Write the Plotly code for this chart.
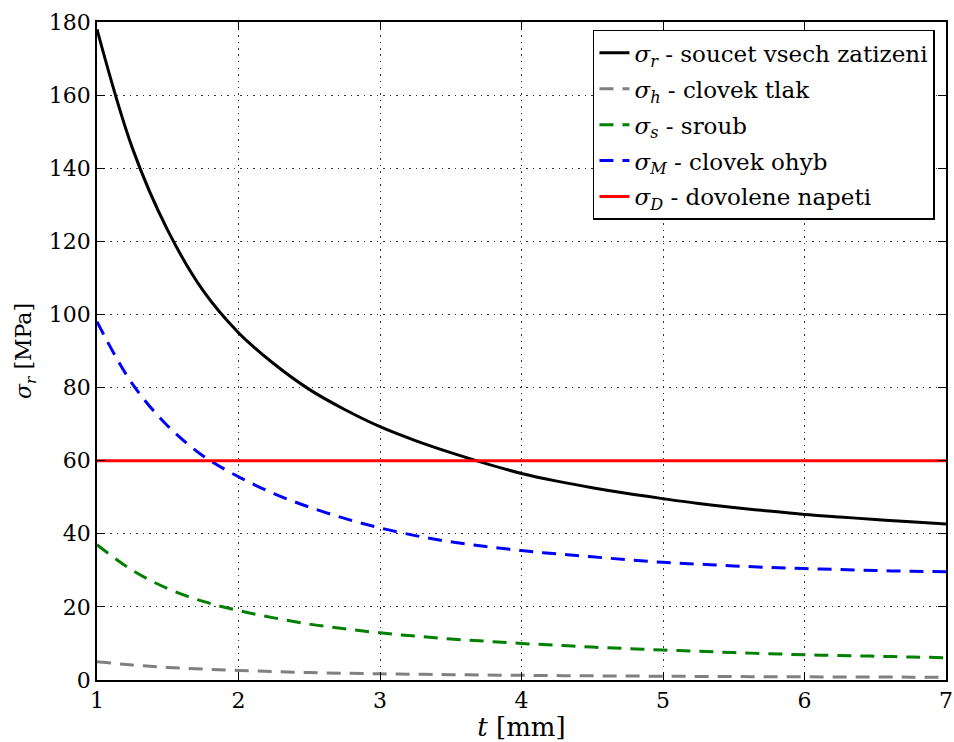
import plotly.graph_objects as go

# thickness t [mm]
t = [1.0, 1.25, 1.5, 1.75, 2.0, 2.25, 2.5, 2.75, 3.0, 3.25, 3.5, 3.75, 4.0,
     4.25, 4.5, 4.75, 5.0, 5.25, 5.5, 5.75, 6.0, 6.25, 6.5, 6.75, 7.0]

sigma_r = [178, 145.5, 123, 106.5, 95, 86.5, 79.5, 74, 69.3, 65.5, 62.2, 59.2, 56.5,
           54.4, 52.6, 51.0, 49.6, 48.3, 47.2, 46.2, 45.3, 44.6, 43.9, 43.3, 42.7]
sigma_h = [5.0, 4.1, 3.45, 3.0, 2.6, 2.3, 2.05, 1.85, 1.7, 1.57, 1.45, 1.36, 1.28,
           1.2, 1.13, 1.08, 1.03, 0.98, 0.94, 0.9, 0.87, 0.84, 0.81, 0.78, 0.75]
sigma_s = [37, 30, 25, 21.5, 19, 17, 15.3, 14, 12.9, 12, 11.2, 10.6, 10.0,
           9.5, 9.0, 8.6, 8.2, 7.85, 7.5, 7.2, 6.9, 6.7, 6.5, 6.3, 6.1]
sigma_M = [98, 81, 69.5, 61.3, 55.6, 51, 47.3, 44.2, 41.6, 39.5, 37.8, 36.5, 35.4,
           34.5, 33.7, 32.9, 32.2, 31.7, 31.2, 30.8, 30.5, 30.2, 29.95, 29.75, 29.6]

t_d = [1.0, 7.0]
sigma_D = [60, 60]

FONT = "'DejaVu Serif', serif"

fig = go.Figure()
dash = "14px,9px"
fig.add_trace(go.Scatter(x=t, y=sigma_r, mode="lines", line=dict(color="black", width=3, shape="spline"),
                         name="<i>σ</i><sub><i>r</i></sub> - soucet vsech zatizeni", legendgroup="a"))
fig.add_trace(go.Scatter(x=t, y=sigma_h, mode="lines", line=dict(color="#808080", width=3, dash=dash, shape="spline"),
                         name="<i>σ</i><sub><i>h</i></sub> - clovek tlak", legendgroup="b"))
fig.add_trace(go.Scatter(x=t, y=sigma_s, mode="lines", line=dict(color="green", width=3, dash=dash, shape="spline"),
                         name="<i>σ</i><sub><i>s</i></sub> - sroub", legendgroup="c"))
fig.add_trace(go.Scatter(x=t, y=sigma_M, mode="lines", line=dict(color="blue", width=3, dash=dash, shape="spline"),
                         name="<i>σ</i><sub><i>M</i></sub> - clovek ohyb", legendgroup="d"))
fig.add_trace(go.Scatter(x=t_d, y=sigma_D, mode="lines", line=dict(color="red", width=3),
                         name="<i>σ</i><sub><i>D</i></sub> - dovolene napeti", legendgroup="e"))

axis_common = dict(
    showline=True, linecolor="black", linewidth=1.5, mirror="allticks",
    ticks="inside", ticklen=8, tickwidth=1, tickcolor="black",
    showgrid=True, gridcolor="rgba(0,0,0,0.8)", gridwidth=1, griddash="1.5px,5px",
    zeroline=False, tickfont=dict(family=FONT, size=22, color="black"),
    layer="above traces", automargin=False,
)

fig.update_layout(
    width=954, height=742,
    margin=dict(l=97, r=8, t=22, b=62),
    paper_bgcolor="white", plot_bgcolor="white",
    font=dict(family=FONT, size=20, color="black"),
    xaxis=dict(range=[1, 7], dtick=1, tick0=1,
               title=dict(text="<i>t</i> [mm]", font=dict(family=FONT, size=26), standoff=4),
               **axis_common),
    yaxis=dict(range=[0, 180], dtick=20, tick0=0, **axis_common),
    legend=dict(x=0.987, y=0.988, xanchor="right", yanchor="top",
                bgcolor="white", bordercolor="black", borderwidth=1.5,
                font=dict(family=FONT, size=23, color="black"),
                tracegroupgap=3),
    showlegend=True,
    annotations=[dict(text="<i>σ</i><sub><i>r</i></sub> [MPa]", textangle=-90,
                      xref="paper", yref="paper", x=-0.0848, y=0.5,
                      xanchor="center", yanchor="middle", showarrow=False,
                      font=dict(family=FONT, size=22, color="black"))],
)

fig.write_html("out.html")
